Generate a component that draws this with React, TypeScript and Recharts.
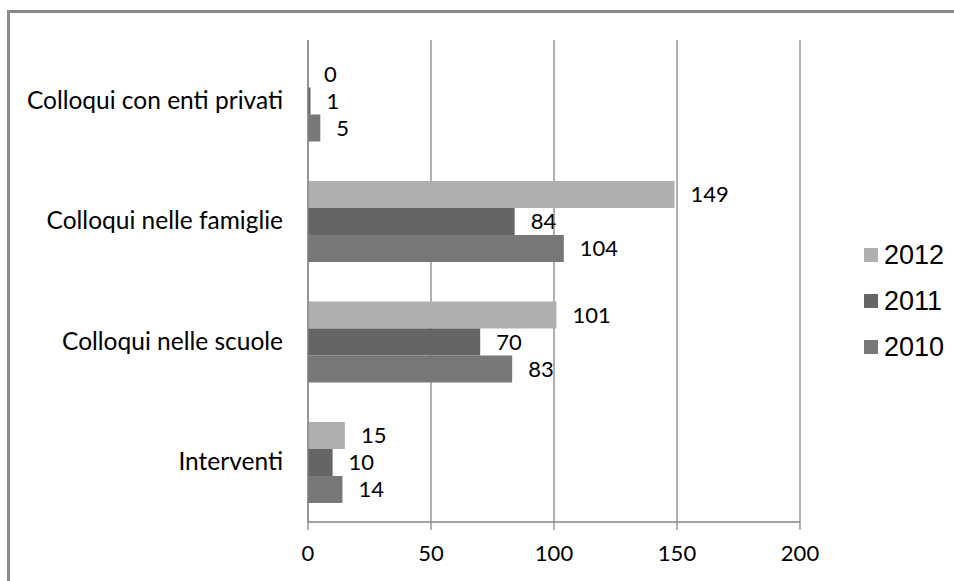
import React from 'react';
import {
  BarChart,
  Bar,
  XAxis,
  YAxis,
  CartesianGrid,
  LabelList,
} from 'recharts';

// categorie dall'alto verso il basso
const categorie = [
  'Colloqui con enti privati',
  'Colloqui nelle famiglie',
  'Colloqui nelle scuole',
  'Interventi',
];

const valori2012 = [0, 149, 101, 15];
const valori2011 = [1, 84, 70, 10];
const valori2010 = [5, 104, 83, 14];

const anni = ['2012', '2011', '2010'];
const COLORI = ['#afafaf', '#656565', '#777777'];

const tickAsseX = [0, 50, 100, 150, 200];
const bordiCategorie = [0, 1, 2, 3, 4];

const data = categorie.map((name, i) => ({
  name,
  '2012': valori2012[i],
  '2011': valori2011[i],
  '2010': valori2010[i],
}));

const AXIS = '#868686';
const FONT = 'Lato, "Open Sans", sans-serif';

const App: React.FC = () => {
  return (
    <div
      style={{
        position: 'absolute',
        left: 0,
        top: 0,
        width: 954,
        height: 581,
        background: '#fff',
        overflow: 'hidden',
      }}
    >
      {/* cornice del grafico (solo lato sinistro e superiore visibili) */}
      <div
        style={{
          position: 'absolute',
          left: 7,
          top: 10,
          width: 980,
          height: 620,
          borderLeft: '3px solid #8a8a8a',
          borderTop: '3px solid #8a8a8a',
        }}
      />
      <div style={{ position: 'absolute', left: 0, top: 0 }}>
        <BarChart
          width={954}
          height={581}
          data={data}
          layout="vertical"
          margin={{ top: 40, right: 154, left: 8, bottom: 0 }}
          barCategoryGap="17%"
          barGap={0}
          style={{ fontFamily: FONT }}
        >
          <CartesianGrid horizontal={false} stroke={AXIS} strokeWidth={1.3} />
          <XAxis
            type="number"
            domain={[0, 200]}
            ticks={tickAsseX}
            interval={0}
            height={59}
            tickSize={8}
            tickMargin={15}
            axisLine={{ stroke: AXIS, strokeWidth: 1.3 }}
            tickLine={{ stroke: AXIS, strokeWidth: 1.3 }}
            tick={{ fill: '#000', fontSize: 22, fontFamily: FONT }}
          />
          {/* tacche ai bordi delle categorie */}
          <YAxis
            yAxisId="bordi"
            type="number"
            domain={[0, 4]}
            ticks={bordiCategorie}
            allowDataOverflow
            interval={0}
            width={0}
            tickSize={8}
            axisLine={false}
            tickLine={{ stroke: AXIS, strokeWidth: 1.3 }}
            tickFormatter={() => ''}
          />
          <YAxis
            type="category"
            dataKey="name"
            width={300}
            tickLine={false}
            tickSize={0}
            tickMargin={25}
            axisLine={{ stroke: AXIS, strokeWidth: 1.3 }}
            tick={{ fill: '#000', fontSize: 24.5, fontFamily: FONT }}
          />
          {anni.map((anno, i) => (
            <Bar
              key={anno}
              dataKey={anno}
              fill={COLORI[i]}
              minPointSize={0.01}
              isAnimationActive={false}
            >
              <LabelList
                dataKey={anno}
                position="right"
                offset={16}
                fill="#000"
                fontSize={22}
                fontFamily={FONT}
              />
            </Bar>
          ))}
        </BarChart>
      </div>
      {/* legenda */}
      <div style={{ position: 'absolute', left: 864, top: 232 }}>
        {anni.map((anno, i) => (
          <div
            key={anno}
            style={{
              display: 'flex',
              alignItems: 'center',
              height: 46,
              fontFamily: '"Liberation Sans", Arial, sans-serif',
              fontSize: 27,
              color: '#000',
            }}
          >
            <span
              style={{
                display: 'inline-block',
                width: 14,
                height: 14,
                background: COLORI[i],
                marginRight: 6,
              }}
            />
            {anno}
          </div>
        ))}
      </div>
    </div>
  );
};

export default App;
